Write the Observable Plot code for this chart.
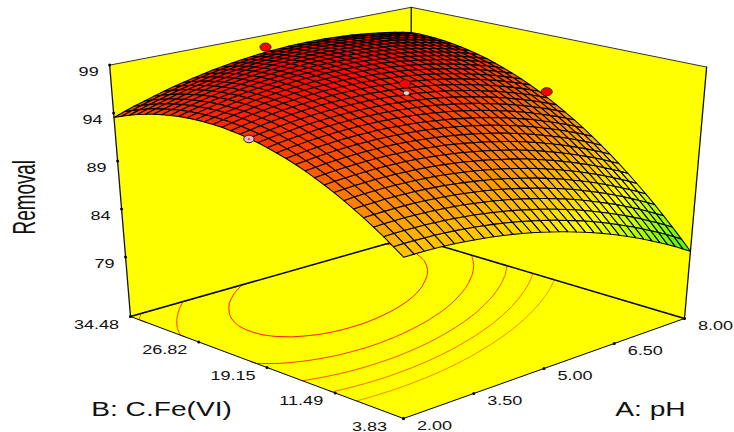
<!DOCTYPE html>
<html><head><meta charset="utf-8">
<style>html,body{margin:0;padding:0;background:#fff}svg{display:block}</style>
<script src="https://cdn.jsdelivr.net/npm/d3@7"></script>
<script src="https://cdn.jsdelivr.net/npm/@observablehq/plot@0.6"></script>
</head><body><div id="chart"></div>
<script>
// Axis ranges and tick labels
const phRange = [2, 8];
const feRange = [3.83, 34.48];
const removalRange = [72.8, 99];
const phTicks = [2, 3.5, 5, 6.5, 8];
const feTicks = [3.83, 11.49, 19.15, 26.82, 34.48];
const removalTicks = [79, 84, 89, 94, 99];
const contourLevels = [91.65, 92.95, 94.25, 95.55, 96.85];
// Design points
const redPH = [4.92, 8, 4.94];
const redFe = [34.48, 19.3, 19.15];
const redRemoval = [97.8, 93.15, 97.35];
const pinkPH = [2];
const pinkFe = [19.15];
const pinkRemoval = [95.45];
const centerPH = [4.97];
const centerFe = [19.15];
const centerRemoval = [96.4];
// Removal over the grid: one row per Fe step (3.83 -> 34.48), one column per pH step (2 -> 8)
const removal = [
[88.57,88.58,88.57,88.54,88.50,88.44,88.36,88.26,88.15,88.02,87.87,87.70,87.52,87.32,87.10,86.86,86.61,86.34,86.05,85.75,85.43,85.09,84.73,84.35,83.96,83.55,83.13,82.68,82.22,81.74,81.25,80.73,80.20],
[89.25,89.28,89.28,89.26,89.23,89.18,89.11,89.02,88.92,88.80,88.66,88.50,88.33,88.14,87.93,87.70,87.46,87.20,86.92,86.64,86.33,86.00,85.65,85.28,84.90,84.50,84.09,83.65,83.20,82.73,82.25,81.74,81.22],
[89.91,89.94,89.95,89.94,89.92,89.88,89.82,89.74,89.65,89.55,89.42,89.27,89.11,88.93,88.73,88.51,88.28,88.03,87.77,87.49,87.19,86.87,86.53,86.17,85.80,85.41,85.01,84.59,84.15,83.69,83.22,82.72,82.21],
[90.52,90.56,90.59,90.59,90.58,90.55,90.50,90.43,90.36,90.26,90.14,90.00,89.85,89.68,89.50,89.29,89.07,88.83,88.57,88.30,88.02,87.71,87.38,87.03,86.67,86.29,85.91,85.49,85.06,84.61,84.15,83.66,83.17],
[91.11,91.16,91.19,91.20,91.21,91.19,91.15,91.09,91.02,90.94,90.83,90.70,90.56,90.41,90.23,90.03,89.82,89.59,89.35,89.09,88.81,88.51,88.20,87.86,87.51,87.14,86.76,86.36,85.94,85.50,85.05,84.58,84.09],
[91.66,91.72,91.76,91.79,91.80,91.79,91.76,91.72,91.66,91.58,91.49,91.37,91.24,91.09,90.93,90.74,90.54,90.32,90.09,89.84,89.57,89.29,88.98,88.65,88.31,87.96,87.59,87.19,86.79,86.36,85.92,85.45,84.98],
[92.17,92.25,92.30,92.33,92.36,92.36,92.34,92.31,92.26,92.19,92.11,92.00,91.88,91.75,91.59,91.41,91.23,91.02,90.79,90.56,90.30,90.02,89.73,89.41,89.08,88.74,88.38,87.99,87.60,87.18,86.75,86.30,85.83],
[92.66,92.74,92.81,92.85,92.88,92.90,92.89,92.86,92.83,92.77,92.70,92.60,92.49,92.37,92.22,92.06,91.88,91.68,91.47,91.24,91.00,90.73,90.44,90.14,89.82,89.49,89.14,88.76,88.38,87.97,87.55,87.11,86.65],
[93.11,93.20,93.27,93.33,93.37,93.40,93.40,93.39,93.36,93.32,93.25,93.17,93.07,92.95,92.82,92.66,92.50,92.31,92.11,91.89,91.66,91.40,91.12,90.83,90.52,90.20,89.86,89.50,89.12,88.73,88.32,87.88,87.44],
[93.52,93.63,93.71,93.78,93.83,93.87,93.88,93.88,93.86,93.83,93.77,93.70,93.61,93.51,93.38,93.24,93.08,92.91,92.71,92.51,92.28,92.04,91.77,91.49,91.19,90.88,90.55,90.20,89.83,89.45,89.05,88.63,88.19],
[93.91,94.02,94.12,94.19,94.26,94.30,94.33,94.33,94.33,94.31,94.26,94.20,94.12,94.03,93.91,93.78,93.63,93.47,93.29,93.09,92.88,92.64,92.39,92.11,91.83,91.52,91.21,90.87,90.51,90.14,89.75,89.34,88.91],
[94.26,94.38,94.49,94.57,94.65,94.71,94.74,94.76,94.76,94.75,94.72,94.66,94.60,94.52,94.41,94.29,94.15,94.00,93.83,93.64,93.44,93.21,92.97,92.71,92.43,92.14,91.83,91.50,91.16,90.79,90.42,90.02,89.60],
[94.57,94.71,94.82,94.92,95.01,95.07,95.12,95.15,95.16,95.16,95.14,95.09,95.04,94.97,94.88,94.76,94.64,94.50,94.33,94.16,93.97,93.75,93.52,93.27,93.00,92.72,92.43,92.10,91.77,91.42,91.05,90.66,90.26],
[94.85,95.00,95.13,95.24,95.33,95.41,95.47,95.50,95.53,95.54,95.53,95.49,95.45,95.39,95.30,95.20,95.09,94.96,94.80,94.64,94.46,94.26,94.03,93.79,93.54,93.26,92.98,92.67,92.35,92.00,91.65,91.27,90.88],
[95.10,95.26,95.40,95.52,95.62,95.71,95.78,95.83,95.86,95.88,95.88,95.86,95.83,95.77,95.70,95.61,95.51,95.39,95.24,95.09,94.92,94.73,94.51,94.28,94.04,93.78,93.51,93.20,92.89,92.56,92.22,91.84,91.46],
[95.32,95.49,95.64,95.76,95.88,95.98,96.06,96.12,96.17,96.19,96.20,96.19,96.17,96.13,96.07,95.98,95.89,95.78,95.65,95.51,95.35,95.16,94.96,94.74,94.51,94.26,94.00,93.70,93.40,93.08,92.75,92.39,92.02],
[95.50,95.68,95.84,95.98,96.11,96.22,96.30,96.37,96.43,96.47,96.49,96.49,96.48,96.45,96.40,96.32,96.24,96.14,96.02,95.89,95.74,95.57,95.38,95.17,94.94,94.70,94.45,94.17,93.88,93.57,93.25,92.90,92.54],
[95.65,95.84,96.01,96.16,96.30,96.42,96.52,96.60,96.67,96.71,96.74,96.75,96.75,96.73,96.69,96.63,96.56,96.47,96.36,96.24,96.10,95.94,95.76,95.56,95.35,95.12,94.88,94.61,94.33,94.02,93.71,93.37,93.02],
[95.76,95.96,96.14,96.30,96.45,96.58,96.69,96.78,96.86,96.92,96.96,96.98,96.99,96.98,96.95,96.90,96.84,96.76,96.67,96.56,96.43,96.28,96.11,95.92,95.72,95.50,95.27,95.01,94.74,94.45,94.15,93.82,93.48],
[95.85,96.06,96.25,96.42,96.58,96.72,96.84,96.94,97.03,97.10,97.15,97.18,97.20,97.20,97.18,97.15,97.10,97.03,96.94,96.84,96.72,96.58,96.42,96.24,96.05,95.84,95.62,95.37,95.11,94.83,94.54,94.22,93.90],
[95.89,96.12,96.32,96.50,96.67,96.82,96.95,97.06,97.16,97.24,97.31,97.35,97.38,97.39,97.38,97.35,97.31,97.25,97.18,97.09,96.98,96.85,96.70,96.53,96.35,96.15,95.94,95.70,95.46,95.19,94.91,94.60,94.28],
[95.91,96.14,96.35,96.54,96.73,96.89,97.03,97.15,97.26,97.35,97.43,97.48,97.52,97.54,97.54,97.52,97.50,97.45,97.38,97.30,97.20,97.08,96.95,96.79,96.62,96.43,96.23,96.00,95.77,95.51,95.24,94.94,94.63],
[95.89,96.13,96.35,96.56,96.75,96.92,97.07,97.21,97.33,97.43,97.51,97.58,97.63,97.66,97.67,97.66,97.65,97.61,97.55,97.48,97.39,97.29,97.16,97.01,96.85,96.68,96.49,96.27,96.04,95.80,95.54,95.25,94.95],
[95.84,96.09,96.32,96.54,96.74,96.92,97.08,97.23,97.36,97.47,97.57,97.64,97.70,97.74,97.77,97.77,97.76,97.74,97.69,97.63,97.55,97.46,97.34,97.20,97.05,96.89,96.71,96.50,96.29,96.05,95.80,95.52,95.24],
[95.75,96.02,96.26,96.48,96.70,96.89,97.06,97.22,97.36,97.48,97.59,97.67,97.74,97.80,97.83,97.84,97.85,97.83,97.79,97.75,97.68,97.59,97.49,97.36,97.22,97.07,96.90,96.70,96.50,96.27,96.03,95.77,95.49],
[95.63,95.91,96.16,96.39,96.62,96.82,97.01,97.17,97.32,97.46,97.57,97.67,97.75,97.81,97.86,97.88,97.90,97.89,97.86,97.83,97.77,97.69,97.60,97.48,97.36,97.21,97.05,96.87,96.67,96.46,96.23,95.97,95.71],
[95.48,95.76,96.03,96.27,96.51,96.72,96.92,97.09,97.26,97.40,97.52,97.63,97.72,97.80,97.85,97.89,97.91,97.92,97.90,97.87,97.83,97.76,97.68,97.57,97.46,97.32,97.18,97.00,96.82,96.61,96.39,96.15,95.89],
[95.29,95.59,95.86,96.12,96.36,96.59,96.79,96.98,97.15,97.31,97.44,97.56,97.66,97.75,97.81,97.86,97.89,97.91,97.90,97.89,97.85,97.80,97.72,97.63,97.52,97.40,97.26,97.10,96.92,96.73,96.52,96.29,96.04],
[95.07,95.38,95.66,95.93,96.19,96.42,96.64,96.83,97.02,97.18,97.33,97.46,97.57,97.67,97.74,97.80,97.84,97.87,97.87,97.87,97.85,97.80,97.74,97.65,97.56,97.44,97.32,97.16,97.00,96.82,96.62,96.40,96.16],
[94.82,95.14,95.43,95.71,95.98,96.22,96.45,96.65,96.85,97.03,97.18,97.32,97.44,97.55,97.64,97.70,97.76,97.80,97.81,97.82,97.80,97.77,97.72,97.64,97.56,97.45,97.34,97.20,97.04,96.87,96.69,96.47,96.25],
[94.53,94.86,95.17,95.45,95.73,95.99,96.22,96.44,96.65,96.83,97.00,97.15,97.29,97.40,97.50,97.58,97.64,97.69,97.72,97.73,97.73,97.71,97.66,97.60,97.53,97.43,97.33,97.20,97.05,96.89,96.72,96.51,96.30],
[94.21,94.55,94.87,95.17,95.45,95.72,95.97,96.20,96.41,96.61,96.79,96.94,97.09,97.22,97.33,97.41,97.49,97.55,97.59,97.61,97.62,97.61,97.57,97.52,97.46,97.38,97.28,97.16,97.03,96.88,96.71,96.52,96.32],
[93.86,94.21,94.54,94.84,95.14,95.42,95.68,95.92,96.14,96.35,96.54,96.71,96.86,97.00,97.12,97.22,97.31,97.37,97.42,97.46,97.48,97.47,97.45,97.41,97.36,97.29,97.20,97.09,96.97,96.83,96.68,96.49,96.30]
];

// Camera: perspective view of the box
const cam = {front:[403,418], right:[684,318], left:[130,316], back:[410,236.5], vanish:[399,3556], k:-0.0812};
const dx1 = cam.right[0]-cam.back[0], dx2 = cam.left[0]-cam.back[0], sx = cam.front[0]-cam.right[0]+cam.back[0]-cam.left[0];
const dy1 = cam.right[1]-cam.back[1], dy2 = cam.left[1]-cam.back[1], sy = cam.front[1]-cam.right[1]+cam.back[1]-cam.left[1];
const den = dx1*dy2-dx2*dy1, g = (sx*dy2-dx2*sy)/den, h = (dx1*sy-sx*dy1)/den;
function project(a,b,r){
  const u=(a-phRange[0])/(phRange[1]-phRange[0]), v=(b-feRange[0])/(feRange[1]-feRange[0]), z=(r-removalRange[0])/(removalRange[1]-removalRange[0]);
  const W=1+g*u+h*v, q=z*cam.k;
  const X=cam.front[0]+u*((1+g)*cam.right[0]-cam.front[0])+v*((1+h)*cam.left[0]-cam.front[0]);
  const Y=cam.front[1]+u*((1+g)*cam.right[1]-cam.front[1])+v*((1+h)*cam.left[1]-cam.front[1]);
  return [(X+q*cam.vanish[0])/(W+q),(Y+q*cam.vanish[1])/(W+q)];
}
const [aLo,aHi]=phRange,[bLo,bHi]=feRange,[rLo,rHi]=removalRange;
const n=removal.length;
const phAt=i=>aLo+(aHi-aLo)*i/(n-1), feAt=j=>bLo+(bHi-bLo)*j/(n-1);
const pts=(list)=>list.map(([a,b,r])=>{const [x,y]=project(a,b,r);return {x,y};});
const tag=(list,id,extra={})=>pts(list).map(p=>({...p,id,...extra}));

// Walls and floor
const walls=[
 ...tag([[aLo,bHi,rHi],[aHi,bHi,rHi],[aHi,bHi,rLo],[aLo,bHi,rLo]],"leftWall"),
 ...tag([[aHi,bHi,rHi],[aHi,bLo,rHi],[aHi,bLo,rLo],[aHi,bHi,rLo]],"rightWall"),
 ...tag([[aLo,bLo,rLo],[aHi,bLo,rLo],[aHi,bHi,rLo],[aLo,bHi,rLo]],"floor")
];
const backEdges=[...tag([[aLo,bHi,rLo],[aHi,bHi,rLo],[aHi,bLo,rLo]],"floorBack")];
const upright=[
 ...tag([[aLo,bHi,rHi],[aLo,bHi,rLo]],"l"),
 ...tag([[aHi,bLo,rHi],[aHi,bLo,rLo]],"r"),
 ...tag([[aHi,bHi,rHi],[aHi,bHi,rLo]],"b")
];
const topEdges=tag([[aLo,bHi,rHi],[aHi,bHi,rHi],[aHi,bLo,rHi]],"top");
const frontEdges=tag([[aLo,bHi,rLo],[aLo,bLo,rLo],[aHi,bLo,rLo]],"front");

// Surface cells, far to near
const cells=[];
for(let j=n-2;j>=0;j--)for(let i=n-2;i>=0;i--){
  const c=[[i,j],[i+1,j],[i+1,j+1],[i,j+1],[i,j]];
  const level=d3.mean(c.slice(0,4),([p,s])=>removal[s][p]);
  const id=j*n+i;
  for(const [p,s] of c){const [x,y]=project(phAt(p),feAt(s),removal[s][p]);cells.push({x,y,id,level});}
}

// Floor contours, from the same table
const contourRows=[];
{
  const flat=removal.flat();
  let id=0;
  for(const c of d3.contours().size([n,n]).smooth(true).thresholds(contourLevels)(flat)){
    for(const poly of c.coordinates)for(const ring of poly){
      let run=null;
      for(let k=0;k<ring.length-1;k++){
        const p=ring[k],s=ring[k+1];
        const onB=q=>q[0]<=0||q[0]>=n||q[1]<=0||q[1]>=n;
        if(onB(p)&&onB(s)){run=null;continue;}
        if(!run){run=++id;push(p,run,c.value);}
        push(s,run,c.value);
      }
    }
  }
  function push(q,run,level){
    const clamp=t=>Math.max(0,Math.min(n-1,t-.5));
    const [x,y]=project(phAt(clamp(q[0])),feAt(clamp(q[1])),rLo);
    contourRows.push({x,y,id:run,level});
  }
}

// Axis ticks: evenly spaced along each edge
const edgeScale=(dom,p0,p1)=>{const sx=d3.scaleLinear(dom,[p0[0],p1[0]]),sy=d3.scaleLinear(dom,[p0[1],p1[1]]);return t=>({x:sx(t),y:sy(t)});};
const onA=edgeScale(phRange,project(aLo,bLo,rLo),project(aHi,bLo,rLo));
const onB=edgeScale(feRange,project(aLo,bLo,rLo),project(aLo,bHi,rLo));
const onR=edgeScale(removalRange,project(aLo,bHi,rLo),project(aLo,bHi,rHi));
const aTicks=phTicks.map(t=>({...onA(t),label:t.toFixed(2)}));
const bTicks=feTicks.map(t=>({...onB(t),label:t.toFixed(2)}));
const rTicks=removalTicks.map(t=>({...onR(t),label:String(t)}));

const ellipse={draw(ctx,size){
  const r=Math.sqrt(size/Math.PI),rx=r*1.3,ry=r*.95,c=.5523;
  ctx.moveTo(rx,0);
  ctx.bezierCurveTo(rx,c*ry,c*rx,ry,0,ry);
  ctx.bezierCurveTo(-c*rx,ry,-rx,c*ry,-rx,0);
  ctx.bezierCurveTo(-rx,-c*ry,-c*rx,-ry,0,-ry);
  ctx.bezierCurveTo(c*rx,-ry,rx,-c*ry,rx,0);
  ctx.closePath();
}};
const designDots=(A,B,R)=>A.map((a,i)=>{const [x,y]=project(a,B[i],R[i]);return {x,y};});
const reds=designDots(redPH,redFe,redRemoval), pinks=designDots(pinkPH,pinkFe,pinkRemoval), centers=designDots(centerPH,centerFe,centerRemoval);
const font="Liberation Sans, Arial, sans-serif";
const xy={x:"x",y:"y"};

const svg=Plot.plot({
  width:734,height:432,margin:0,style:{background:"#fff"},
  x:{domain:[0,734],range:[0,734],axis:null},
  y:{domain:[0,432],range:[0,432],axis:null},
  color:{type:"linear",domain:[78.5,86,98],range:["#00ff00","#ffff00","#ff0000"],interpolate:"rgb",clamp:true},
  marks:[
    Plot.line(walls,{...xy,z:"id",fill:"#ffff00",stroke:"none"}),
    Plot.line(contourRows,{...xy,z:"id",stroke:d=>d.level,strokeWidth:1}),
    Plot.line(topEdges,{...xy,z:"id",stroke:"#333",strokeWidth:1}),
    Plot.line(backEdges,{...xy,z:"id",stroke:"#000",strokeWidth:1.5}),
    Plot.line(upright,{...xy,z:"id",stroke:"#111",strokeWidth:1.3}),
    Plot.line(frontEdges,{...xy,z:"id",stroke:"#000",strokeWidth:1}),
    Plot.line(cells,{...xy,z:"id",fill:"level",stroke:"#000",strokeWidth:1.05,strokeLinejoin:"round"}),
    Plot.dot(pinks,{...xy,r:4,symbol:ellipse,fill:"#f4b6bc",stroke:"#222",strokeWidth:1}),
    Plot.dot(pinks,{...xy,r:.8,fill:"#111"}),
    Plot.dot(centers,{...xy,r:2.4,symbol:ellipse,fill:"#f4d0d4",stroke:"#333",strokeWidth:.8}),
    Plot.dot(reds,{...xy,r:4.3,symbol:ellipse,fill:"#ff0000",stroke:"#222",strokeWidth:1}),
    Plot.dot([...aTicks,...bTicks,...rTicks],{...xy,r:1.5,fill:"#000"}),
    Plot.text(aTicks,{...xy,text:"label",dx:31,dy:7,fontSize:13,fontFamily:font,fill:"#111",className:"wide"}),
    Plot.text(bTicks,{...xy,text:"label",dx:-34,dy:8,fontSize:13,fontFamily:font,fill:"#111",className:"wide"}),
    Plot.text(rTicks,{...xy,text:"label",dx:-21,dy:7,fontSize:13,fontFamily:font,fill:"#111",className:"wide"}),
    Plot.text([{x:161,y:408.6,t:"B: C.Fe(VI)"},{x:650,y:408.6,t:"A: pH"}],{...xy,text:"t",fontSize:21,fontFamily:font,fill:"#111",className:"wide2"}),
    Plot.text([{x:24.5,y:196.7,t:"Removal"}],{...xy,text:"t",rotate:-90,fontSize:32,fontFamily:font,fill:"#111",className:"narrow"})
  ]
});
const stretch=(cls,f)=>svg.querySelectorAll(`.${cls} text, g.${cls} text`).forEach(t=>{
  const tr=t.getAttribute("transform");
  if(tr) t.setAttribute("transform",`${tr} scale(${f},1)`);
  else { const x=+t.getAttribute("x")||0,y=+t.getAttribute("y")||0; t.removeAttribute("x");t.removeAttribute("y");t.setAttribute("transform",`translate(${x},${y}) scale(${f},1)`);}
});
stretch("wide",1.39);
stretch("wide2",1.34);
stretch("narrow",0.59);
document.getElementById("chart").append(svg);
</script></body></html>
